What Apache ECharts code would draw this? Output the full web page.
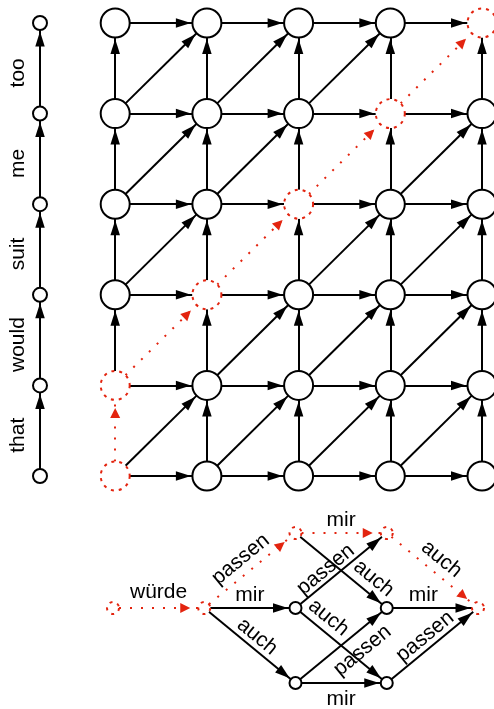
<!DOCTYPE html>
<html><head><meta charset="utf-8">
<script src="https://cdn.jsdelivr.net/npm/echarts@6/dist/echarts.min.js"></script>
<style>html,body{margin:0;padding:0;background:#fff}#c{width:494px;height:709px}</style>
</head><body><div id="c"></div>
<script>
// ---- data ----
const gridCols = [0, 1, 2, 3, 4];
const gridRows = [0, 1, 2, 3, 4, 5];
const sourceWords = ['that', 'would', 'suit', 'me', 'too'];
const alignPath = [[0, 0], [0, 1], [1, 2], [2, 3], [3, 4], [4, 5]];

const latticeNodeIds   = ['A', 'B', 'C', 'D', 'E', 'F', 'G', 'H', 'I'];
const latticeNodeStep  = [0, 1, 2, 2, 3, 3, 2, 3, 4];
const latticeNodeLevel = [0, 0, 0, 1, 1, 0, -1, -1, 0];
const latticeNodeBest  = [1, 1, 0, 1, 1, 0, 0, 0, 1];
const latticeEdgeFrom  = ['A', 'B', 'B', 'D', 'E', 'B', 'C', 'D', 'C', 'G', 'G', 'F', 'H'];
const latticeEdgeTo    = ['B', 'D', 'C', 'E', 'I', 'G', 'E', 'F', 'H', 'F', 'H', 'I', 'I'];
const latticeEdgeWord  = ['würde', 'passen', 'mir', 'mir', 'auch', 'auch', 'passen', 'auch', 'auch', 'passen', 'mir', 'mir', 'passen'];
const latticeEdgeBest  = [1, 1, 0, 1, 1, 0, 0, 0, 0, 0, 0, 0, 0];

// ---- styles ----
const RED = '#e3240f';
const FONT = '"Liberation Sans", Arimo, Arial, Helvetica, sans-serif';
const FS = 21;
const WORD_X = -0.82;
const NO_SYMBOL = 'path://M0,0L0,0M36,36L36,36';
const ARROW_BLACK = 'path://M0,0L0,0M36,36L36,36M18,19.5L22.75,34.5L13.25,34.5Z';
const ARROW_RED = 'path://M0,0L0,0M36,36L36,36M18,26L23,36L13,36Z';
const latticeLabelPos = ['insideMiddleTop', 'insideMiddleTop', 'insideMiddleTop', 'insideMiddleTop', 'insideMiddleTop',
  'insideMiddleTop', 'insideStartTop', 'insideEndTop', 'insideStartTop', 'insideEndBottom', 'insideMiddleBottom',
  'insideStartTop', 'insideMiddleTop'];
const latticeLabelDist = [[0, 5], [0, 4], [0, 2], [0, 2], [0, 4], [0, 1], [8, 0], [0, 4], [3, 3], [6, 7], [0, 6], [16, 2], [0, 1]];

function nodeItem(name, x, y, red, size) {
  return {
    name: name, value: [x, y], symbolSize: size,
    itemStyle: red
      ? { color: '#fff', borderColor: RED, borderWidth: 2, borderType: [3, 5] }
      : { color: '#fff', borderColor: '#000', borderWidth: 2 }
  };
}
function linkItem(s, t, red, label) {
  const o = {
    source: s, target: t,
    symbol: [NO_SYMBOL, red ? ARROW_RED : ARROW_BLACK],
    lineStyle: red
      ? { color: RED, width: 2, type: [2, 9], opacity: 1, curveness: 0 }
      : { color: '#000', width: 2, type: 'solid', opacity: 1, curveness: 0 }
  };
  if (label) o.label = Object.assign({ show: true, fontSize: FS, fontFamily: FONT, color: '#000' }, label);
  return o;
}

const isAlign = (c, r) => alignPath.some(p => p[0] === c && p[1] === r);
const isAlignStep = (c1, r1, c2, r2) => alignPath.some((p, i) => i > 0 &&
  alignPath[i - 1][0] === c1 && alignPath[i - 1][1] === r1 && p[0] === c2 && p[1] === r2);

const topNodes = [], topLinks = [];
gridRows.forEach(r => gridCols.forEach(c => topNodes.push(nodeItem('n' + c + '_' + r, c, r, isAlign(c, r), 29))));
gridRows.forEach(r => topNodes.push(nodeItem('w' + r, WORD_X, r, false, 14)));
const lastC = gridCols[gridCols.length - 1], lastR = gridRows[gridRows.length - 1];
gridRows.forEach(r => gridCols.forEach(c => {
  const id = 'n' + c + '_' + r;
  if (c < lastC) topLinks.push(linkItem(id, 'n' + (c + 1) + '_' + r, isAlignStep(c, r, c + 1, r)));
  if (r < lastR) topLinks.push(linkItem(id, 'n' + c + '_' + (r + 1), isAlignStep(c, r, c, r + 1)));
  if (c < lastC && r < lastR) topLinks.push(linkItem(id, 'n' + (c + 1) + '_' + (r + 1), isAlignStep(c, r, c + 1, r + 1)));
}));
sourceWords.forEach((w, r) => topLinks.push(linkItem('w' + r, 'w' + (r + 1), false,
  { formatter: w, position: 'insideMiddleTop', distance: [0, 11], padding: [0, 9, 0, 0] })));

const botNodes = latticeNodeIds.map((id, i) => nodeItem(id, latticeNodeStep[i], latticeNodeLevel[i], !!latticeNodeBest[i], 12));
const botLinks = latticeEdgeFrom.map((f, i) => linkItem(f, latticeEdgeTo[i], !!latticeEdgeBest[i],
  { formatter: latticeEdgeWord[i], position: latticeLabelPos[i], distance: latticeLabelDist[i] }));

const seriesBase = {
  type: 'graph', layout: 'none', coordinateSystem: 'cartesian2d',
  symbol: 'circle', label: { show: false }, emphasis: { disabled: true },
  edgeSymbol: [NO_SYMBOL, ARROW_BLACK], edgeSymbolSize: [36, 36],
  lineStyle: { color: '#000', width: 2, opacity: 1, curveness: 0 }
};

const chart = echarts.init(document.getElementById('c'), null, { renderer: 'canvas' });
chart.setOption({
  animation: false,
  backgroundColor: '#fff',
  grid: [
    { left: 40, top: 23, width: 442, height: 453 },
    { left: 113, top: 533, width: 365, height: 150 }
  ],
  xAxis: [
    { type: 'value', gridIndex: 0, min: WORD_X, max: 4, show: false },
    { type: 'value', gridIndex: 1, min: 0, max: 4, show: false }
  ],
  yAxis: [
    { type: 'value', gridIndex: 0, min: 0, max: 5, show: false },
    { type: 'value', gridIndex: 1, min: -1, max: 1, show: false }
  ],
  series: [
    Object.assign({}, seriesBase, { xAxisIndex: 0, yAxisIndex: 0, data: topNodes, links: topLinks }),
    Object.assign({}, seriesBase, { xAxisIndex: 1, yAxisIndex: 1, data: botNodes, links: botLinks })
  ]
});
</script></body></html>
